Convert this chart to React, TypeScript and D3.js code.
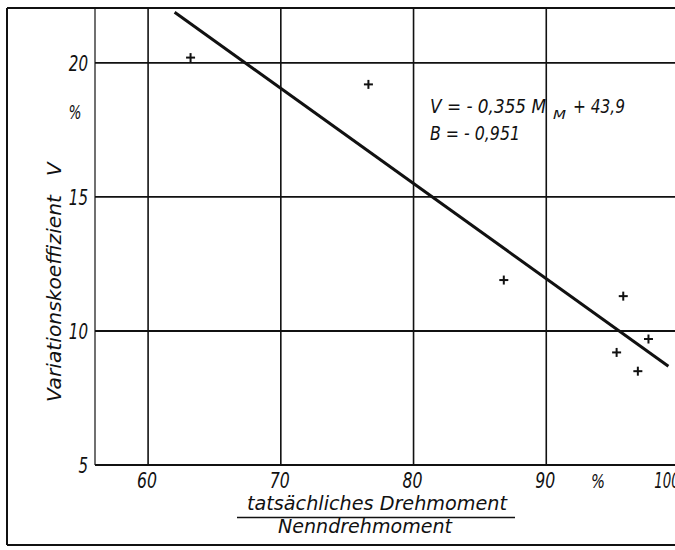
import React from "react";
import * as d3 from "d3";

const pointsX = [63.2, 76.6, 86.8, 95.8, 97.7, 95.3, 96.9];
const pointsY = [20.2, 19.2, 11.9, 11.3, 9.7, 9.2, 8.5];
const slope = -0.355;
const intercept = 43.9;
const fitRange = [62, 99.2];
const xTicks = [60, 70, 80, 90, 100];
const yTicks = [5, 10, 15, 20];
const gridY = [10, 15, 20];
const gridX = [60, 70, 80, 90];

const FONT = "'DejaVu Sans', 'Liberation Sans', sans-serif";

export default function App() {
  const W = 675, H = 550;
  const x = d3.scaleLinear().domain([56, 100]).range([95, 679]);
  const y = d3.scaleLinear().domain([5, 22.05]).range([465, 8]);
  const line = d3.line<number>().x((d) => x(d)).y((d) => y(slope * d + intercept));
  const ink = "#111";
  const txt = { fontFamily: FONT, fontStyle: "italic" as const, fill: ink };
  const digitW = 9.6;

  return (
    <svg width={W} height={H} style={{ position: "absolute", left: 0, top: 0, background: "#fff" }}>
      <rect x={0} y={0} width={W} height={H} fill="#fff" />
      {/* outer frame */}
      <line x1={7} y1={8} x2={675} y2={8} stroke={ink} strokeWidth={2} />
      <line x1={7} y1={8} x2={7} y2={545} stroke={ink} strokeWidth={2} />
      <line x1={7} y1={545} x2={675} y2={545} stroke={ink} strokeWidth={2} />

      {/* plot frame */}
      <line x1={x(56)} y1={y(22.05)} x2={x(56)} y2={y(5)} stroke={ink} strokeWidth={1.2} />
      <line x1={x(56)} y1={y(5)} x2={W} y2={y(5)} stroke={ink} strokeWidth={2} />
      {gridY.map((v) => (
        <line key={"gy" + v} x1={x(56)} x2={W} y1={y(v)} y2={y(v)} stroke={ink} strokeWidth={1.8} />
      ))}
      {gridX.map((v) => (
        <line key={"gx" + v} x1={x(v)} x2={x(v)} y1={y(22.05)} y2={y(5)} stroke={ink} strokeWidth={1.6} />
      ))}

      {/* regression line */}
      <path d={line(fitRange) || ""} stroke={ink} strokeWidth={3} fill="none" />

      {/* points */}
      {pointsX.map((px, i) => {
        const cx = x(px), cy = y(pointsY[i]);
        return (
          <g key={"p" + i} stroke={ink} strokeWidth={2}>
            <line x1={cx - 4.5} x2={cx + 4.5} y1={cy} y2={cy} />
            <line x1={cx} x2={cx} y1={cy - 4.5} y2={cy + 4.5} />
          </g>
        );
      })}

      {/* y tick labels */}
      {yTicks.map((v) => (
        <text key={"yt" + v} x={88} y={y(v) + 8} textAnchor="end" fontSize={22}
          textLength={String(v).length * digitW} lengthAdjust="spacingAndGlyphs" {...txt}>
          {v}
        </text>
      ))}
      <text x={75} y={119} textAnchor="middle" fontSize={20} textLength={13} lengthAdjust="spacingAndGlyphs" {...txt}>%</text>

      {/* x tick labels */}
      {xTicks.map((v) => (
        <text key={"xt" + v} x={v === 100 ? x(v) - 12 : x(v) - 1} y={488} textAnchor="middle" fontSize={22}
          textLength={String(v).length * (v === 100 ? 8.5 : 10)} lengthAdjust="spacingAndGlyphs" {...txt}>
          {v}
        </text>
      ))}
      <text x={598} y={488} textAnchor="middle" fontSize={20} textLength={14} lengthAdjust="spacingAndGlyphs" {...txt}>%</text>

      {/* y title */}
      <text transform="translate(61,402) rotate(-90)" fontSize={20} textLength={207} lengthAdjust="spacingAndGlyphs" {...txt}>
        Variationskoeffizient
      </text>
      <text transform="translate(61,176) rotate(-90)" fontSize={20} {...txt}>V</text>

      {/* x title */}
      <text x={247} y={510} fontSize={19} textLength={260} lengthAdjust="spacingAndGlyphs" {...txt}>
        tatsächliches Drehmoment
      </text>
      <line x1={237} x2={515} y1={517.5} y2={517.5} stroke={ink} strokeWidth={1.5} />
      <text x={278} y={533} fontSize={19} textLength={174} lengthAdjust="spacingAndGlyphs" {...txt}>
        Nenndrehmoment
      </text>

      {/* annotation */}
      <text x={430} y={113} fontSize={19} textLength={116} lengthAdjust="spacingAndGlyphs" {...txt}>
        {"V = - 0,355 M"}
      </text>
      <text x={553} y={119} fontSize={13} textLength={13} lengthAdjust="spacingAndGlyphs" {...txt}>
        M
      </text>
      <text x={573} y={113} fontSize={19} textLength={52} lengthAdjust="spacingAndGlyphs" {...txt}>
        {"+ 43,9"}
      </text>
      <text x={430} y={140} fontSize={19} textLength={90} lengthAdjust="spacingAndGlyphs" {...txt}>
        {"B = - 0,951"}
      </text>
    </svg>
  );
}
